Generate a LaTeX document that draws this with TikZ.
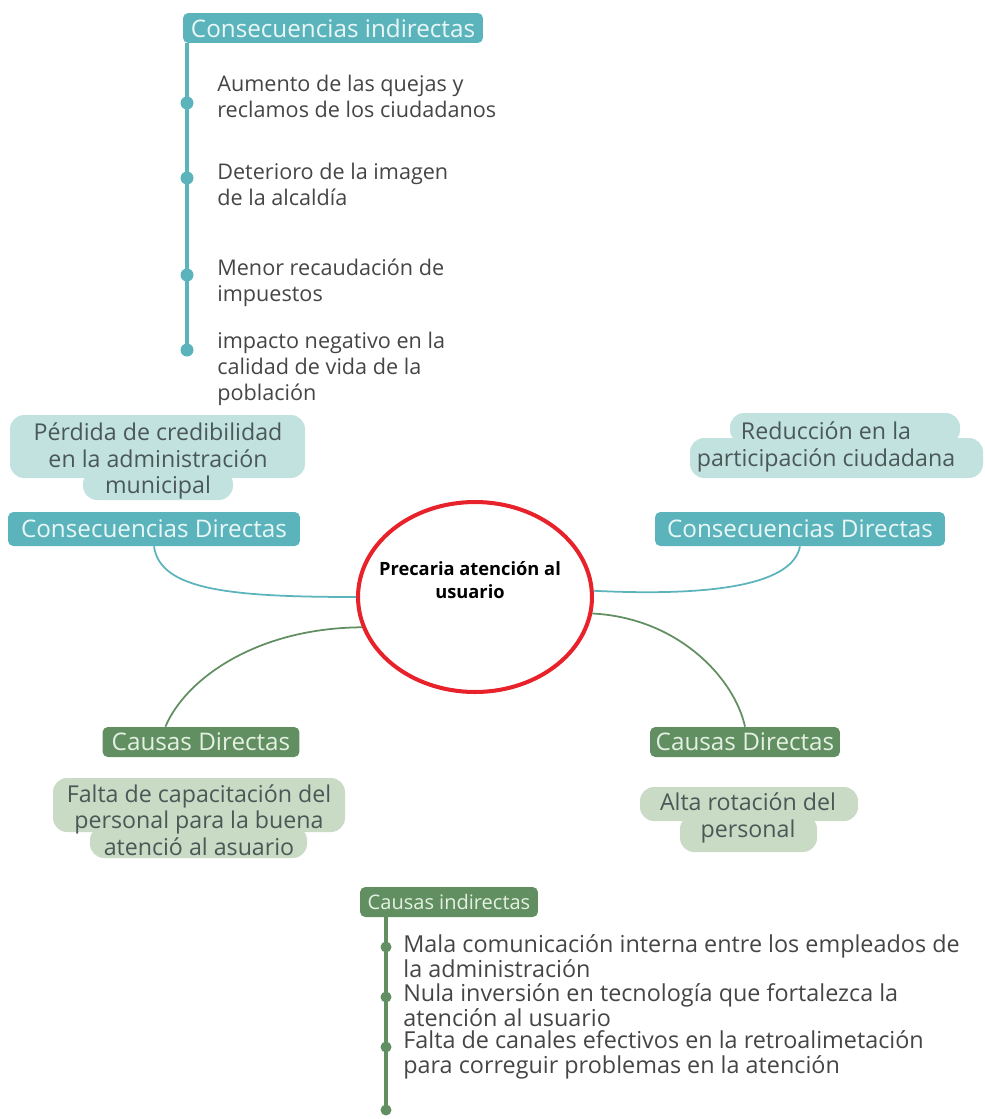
\documentclass[tikz,border=0pt]{standalone}
\usepackage{fontspec}
\setmainfont{Open Sans}
\usetikzlibrary{shapes.geometric,calc}
\definecolor{tealhead}{HTML}{5BB4BC}
\definecolor{tealsoft}{HTML}{C2E2E0}
\definecolor{tealtxt}{HTML}{EAF7F7}
\definecolor{greenhead}{HTML}{628F62}
\definecolor{greensoft}{HTML}{C9DAC5}
\definecolor{greentxt}{HTML}{E4F1E2}
\definecolor{bodytxt}{HTML}{454545}
\definecolor{softtxt}{HTML}{4A5856}
\definecolor{ringred}{HTML}{E8222A}

\begin{document}
\begin{tikzpicture}[x=0.02cm,y=-0.02cm,
    hdbox/.style={rounded corners=3pt, inner sep=0pt, minimum height=0.6cm,
      font=\fontsize{13.8}{15}\selectfont},
    tealhd/.style={hdbox, fill=tealhead, text=tealtxt},
    greenhd/.style={hdbox, fill=greenhead, text=greentxt},
    entry/.style={anchor=west, align=left, inner sep=0pt, text=bodytxt,
      font=\fontsize{12.3}{14.7}\selectfont},
    leaf/.style={align=center, inner sep=0pt, text=softtxt,
      font=\fontsize{13.2}{15.1}\selectfont},
    bullet/.style={circle, inner sep=0pt, minimum size=0.26cm},
    linkteal/.style={draw=tealhead, line width=1pt},
    linkgreen/.style={draw=greenhead, line width=1pt}]
    \useasboundingbox (0,0) rectangle (984,1119);

    % centre
    \node[ellipse, draw=ringred, line width=2.3pt, minimum width=4.68cm,
      minimum height=3.8cm] (centre) at (475,597) {};
    \node[align=center, inner sep=0pt, font=\fontsize{10.4}{13}\bfseries] (ctitle)
      at (470,580) {Precaria atención al\\usuario};

    % consecuencias indirectas
    \node[tealhd, minimum width=6cm] (cit) at (333,28) {Consecuencias indirectas};
    \node[bullet, fill=tealhead] (d1) at (187,103) {};
    \node[bullet, fill=tealhead] (d2) at (187,178) {};
    \node[bullet, fill=tealhead] (d3) at (187,275) {};
    \node[bullet, fill=tealhead] (d4) at (187,350) {};
    \draw[tealhead, line width=2.8pt] (cit.south -| d4) -- (d4.center);
    \node[entry] (ci1) at (217,96) {Aumento de las quejas y\\reclamos de los ciudadanos};
    \node[entry] (ci2) at (217,184) {Deterioro de la imagen\\de la alcaldía};
    \node[entry] (ci3) at (217,283) {Menor recaudación de\\impuestos};
    \node[entry] (ci4) at (217,369) {impacto negativo en la\\calidad de vida de la\\población};

    % consecuencias directas
    \fill[tealsoft, rounded corners=8pt] (10,415) rectangle (305,478);
    \fill[tealsoft, rounded corners=8pt] (83,470) rectangle (233,500);
    \node[leaf] (cd1) at (158,461) {Pérdida de credibilidad\\en la administración\\municipal};
    \fill[tealsoft, rounded corners=8pt] (730,413) rectangle (960,444);
    \fill[tealsoft, rounded corners=8pt] (690,438) rectangle (983,478);
    \node[leaf] (cd2) at (826,447) {Reducción en la\\participación ciudadana};
    \node[tealhd, minimum width=5.84cm, minimum height=0.68cm] (cdl) at (154,529) {Consecuencias Directas};
    \node[tealhd, minimum width=5.8cm, minimum height=0.68cm] (cdr) at (800,529) {Consecuencias Directas};
    \draw[linkteal] (cdl.south) .. controls (160,590) and (230,597) .. (centre.180);
    \draw[linkteal] (cdr.south) .. controls (792,588) and (700,596) .. (centre.3);

    % causas directas
    \node[greenhd, minimum width=3.94cm] (cal) at (201,742) {Causas Directas};
    \node[greenhd, minimum width=3.8cm] (car) at (745,742) {Causas Directas};
    \draw[linkgreen] (centre.195) .. controls (255,628) and (185,680)
      .. ($(cal.north west)!0.32!(cal.north east)$);
    \draw[linkgreen] (centre.352) .. controls (680,618) and (735,680) .. (car.north);
    \fill[greensoft, rounded corners=8pt] (53,778) rectangle (345,832);
    \fill[greensoft, rounded corners=8pt] (90,826) rectangle (307,858);
    \node[leaf] (ca1) at (199,820) {Falta de capacitación del\\personal para la buena\\atenció al asuario};
    \fill[greensoft, rounded corners=8pt] (640,787) rectangle (858,821);
    \fill[greensoft, rounded corners=8pt] (680,815) rectangle (817,852);
    \node[leaf] (ca2) at (748,818) {Alta rotación del\\personal};

    % causas indirectas
    \node[greenhd, minimum width=3.56cm, font=\fontsize{11.4}{13}\selectfont] (cin) at (449,902) {Causas indirectas};
    \node[bullet, fill=greenhead, minimum size=0.22cm] (e1) at (386,947) {};
    \node[bullet, fill=greenhead, minimum size=0.22cm] (e2) at (386,997) {};
    \node[bullet, fill=greenhead, minimum size=0.22cm] (e3) at (386,1047) {};
    \node[bullet, fill=greenhead, minimum size=0.22cm] (e4) at (386,1110) {};
    \draw[greenhead, line width=2.6pt] (cin.south -| e4) -- (e4.center);
    \node[entry, font=\fontsize{13.3}{14.2}\selectfont] (cn1) at (403,956) {Mala comunicación interna entre los empleados de\\la administración};
    \node[entry, font=\fontsize{13.3}{14.2}\selectfont] (cn2) at (403,1005) {Nula inversión en tecnología que fortalezca la\\atención al usuario};
    \node[entry, font=\fontsize{13.3}{14.2}\selectfont] (cn3) at (403,1055) {Falta de canales efectivos en la retroalimetación\\para correguir problemas en la atención};
\end{tikzpicture}
\end{document}
